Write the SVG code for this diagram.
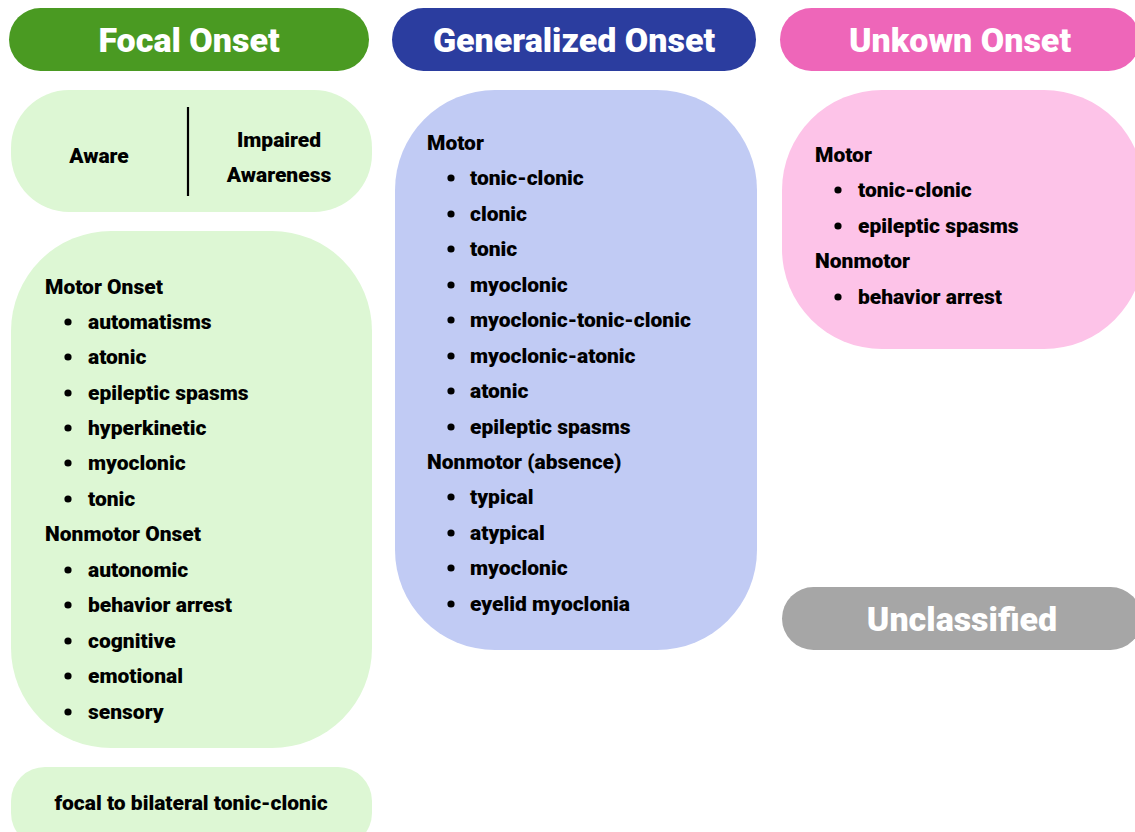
<svg xmlns="http://www.w3.org/2000/svg" width="1135" height="832" viewBox="0 0 1135 832">
  <style>
    .hd { font-family: Roboto, "Liberation Sans", sans-serif; font-weight: 900; font-size: 34px; fill: #ffffff; text-anchor: middle; }
    .tx { font-family: Roboto, "Liberation Sans", sans-serif; font-weight: 900; font-size: 21px; fill: #000000; }
    .ct { text-anchor: middle; }
    .green-h { fill: #4a9a22; }
    .green-b { fill: #ddf7d4; }
    .blue-h { fill: #2b3d9f; }
    .blue-b { fill: #c1cbf4; }
    .pink-h { fill: #ee66b9; }
    .pink-b { fill: #fdc3e8; }
    .gray-h { fill: #a6a6a6; }
  </style>
  <defs>
    <circle id="dot" r="3.6" fill="#000"/>
  </defs>

  <!-- Focal onset column -->
  <g id="focal-header">
    <rect class="green-h" x="9" y="8" width="360" height="63" rx="31.5"/>
    <text class="hd" x="189" y="52">Focal Onset</text>
  </g>
  <g id="focal-awareness">
    <rect class="green-b" x="11" y="90" width="361" height="122" rx="58"/>
    <line x1="188" y1="107" x2="188" y2="196" stroke="#000" stroke-width="2.2"/>
    <text class="tx ct" x="99" y="163">Aware</text>
    <text class="tx ct" x="279" y="147">Impaired</text>
    <text class="tx ct" x="279" y="182">Awareness</text>
  </g>
  <g id="focal-types">
    <rect class="green-b" x="11" y="231" width="361" height="517" rx="100"/>
    <text class="tx" x="45" y="294">Motor Onset</text>
    <g>
      <use href="#dot" x="68" y="322"/><text class="tx" x="88" y="329">automatisms</text>
      <use href="#dot" x="68" y="357"/><text class="tx" x="88" y="364">atonic</text>
      <use href="#dot" x="68" y="393"/><text class="tx" x="88" y="400">epileptic spasms</text>
      <use href="#dot" x="68" y="428"/><text class="tx" x="88" y="435">hyperkinetic</text>
      <use href="#dot" x="68" y="463"/><text class="tx" x="88" y="470">myoclonic</text>
      <use href="#dot" x="68" y="499"/><text class="tx" x="88" y="506">tonic</text>
    </g>
    <text class="tx" x="45" y="541">Nonmotor Onset</text>
    <g>
      <use href="#dot" x="68" y="570"/><text class="tx" x="88" y="577">autonomic</text>
      <use href="#dot" x="68" y="605"/><text class="tx" x="88" y="612">behavior arrest</text>
      <use href="#dot" x="68" y="641"/><text class="tx" x="88" y="648">cognitive</text>
      <use href="#dot" x="68" y="676"/><text class="tx" x="88" y="683">emotional</text>
      <use href="#dot" x="68" y="712"/><text class="tx" x="88" y="719">sensory</text>
    </g>
  </g>
  <g id="focal-bilateral">
    <rect class="green-b" x="11" y="767" width="361" height="80" rx="34"/>
    <text class="tx ct" x="191" y="810">focal to bilateral tonic-clonic</text>
  </g>

  <!-- Generalized onset column -->
  <g id="generalized-header">
    <rect class="blue-h" x="392" y="8" width="364" height="63" rx="31.5"/>
    <text class="hd" x="574" y="52">Generalized Onset</text>
  </g>
  <g id="generalized-types">
    <rect class="blue-b" x="395" y="90" width="362" height="560" rx="100"/>
    <text class="tx" x="427" y="150">Motor</text>
    <use href="#dot" x="451" y="178"/><text class="tx" x="470" y="185">tonic-clonic</text>
    <use href="#dot" x="451" y="214"/><text class="tx" x="470" y="221">clonic</text>
    <use href="#dot" x="451" y="249"/><text class="tx" x="470" y="256">tonic</text>
    <use href="#dot" x="451" y="285"/><text class="tx" x="470" y="292">myoclonic</text>
    <use href="#dot" x="451" y="320"/><text class="tx" x="470" y="327">myoclonic-tonic-clonic</text>
    <use href="#dot" x="451" y="356"/><text class="tx" x="470" y="363">myoclonic-atonic</text>
    <use href="#dot" x="451" y="391"/><text class="tx" x="470" y="398">atonic</text>
    <use href="#dot" x="451" y="427"/><text class="tx" x="470" y="434">epileptic spasms</text>
    <text class="tx" x="427" y="469">Nonmotor (absence)</text>
    <use href="#dot" x="451" y="497"/><text class="tx" x="470" y="504">typical</text>
    <use href="#dot" x="451" y="533"/><text class="tx" x="470" y="540">atypical</text>
    <use href="#dot" x="451" y="568"/><text class="tx" x="470" y="575">myoclonic</text>
    <use href="#dot" x="451" y="604"/><text class="tx" x="470" y="611">eyelid myoclonia</text>
  </g>

  <!-- Unknown onset column -->
  <g id="unknown-header">
    <rect class="pink-h" x="780" y="8" width="360" height="63" rx="31.5"/>
    <text class="hd" x="960" y="52">Unkown Onset</text>
  </g>
  <g id="unknown-types">
    <rect class="pink-b" x="782" y="90" width="362" height="259" rx="100"/>
    <text class="tx" x="815" y="162">Motor</text>
    <use href="#dot" x="838" y="190"/><text class="tx" x="858" y="197">tonic-clonic</text>
    <use href="#dot" x="838" y="226"/><text class="tx" x="858" y="233">epileptic spasms</text>
    <text class="tx" x="815" y="268">Nonmotor</text>
    <use href="#dot" x="838" y="297"/><text class="tx" x="858" y="304">behavior arrest</text>
  </g>

  <g id="unclassified">
    <rect class="gray-h" x="782" y="587" width="360" height="63" rx="31.5"/>
    <text class="hd" x="962" y="631">Unclassified</text>
  </g>

  <!-- no connectors in this chart -->
  <g id="connectors"/>
</svg>
